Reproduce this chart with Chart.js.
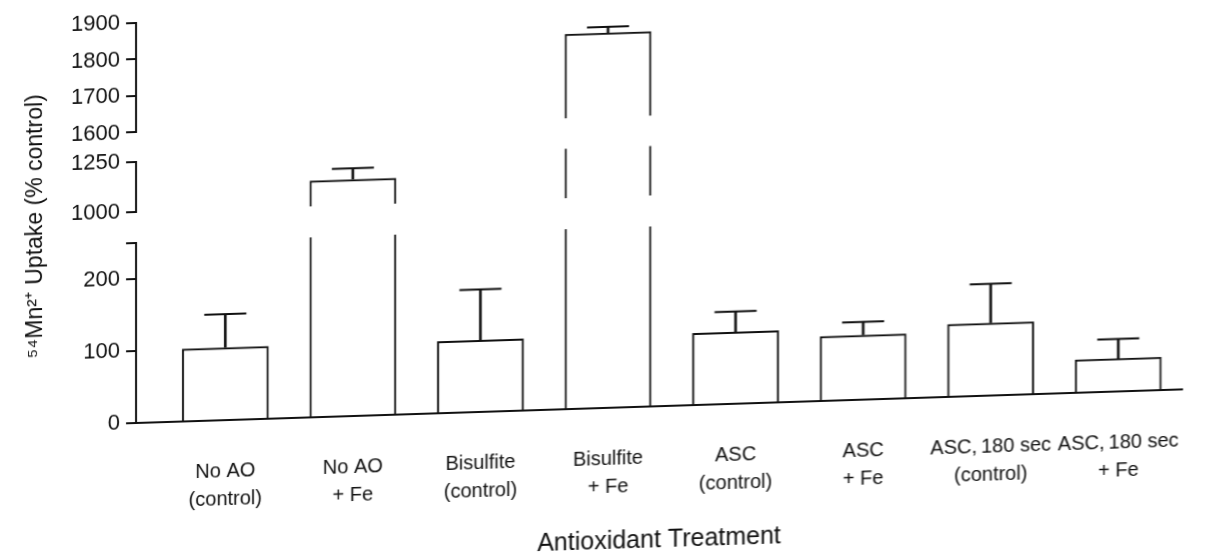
<!DOCTYPE html>
<html>
<head>
<meta charset="utf-8">
<title>54Mn uptake by antioxidant treatment</title>
<script src="https://cdn.jsdelivr.net/npm/chart.js@4/dist/chart.umd.min.js"></script>
<style>
  html, body { margin: 0; padding: 0; background: #fff; overflow: hidden; }
  /* the scanned figure sits slightly askew, so lean the whole drawing the same way */
  #wrap { position: relative; width: 1205px; height: 600px; transform-origin: 136px 423px; transform: skewY(-1.84deg); }
</style>
</head>
<body>
<div id="wrap"><canvas id="uptakeBar"></canvas></div>
<script>
// treatment groups (two-line labels)
const treatments = [
  ['No AO', '(control)'], ['No AO', '+ Fe'],
  ['Bisulfite', '(control)'], ['Bisulfite', '+ Fe'],
  ['ASC', '(control)'], ['ASC', '+ Fe'],
  ['ASC,\u2009180 sec', '(control)'], ['ASC,\u2009180 sec', '+ Fe']
];

// 54Mn2+ uptake, % control, and the error bar above each bar
const uptake = [101, 1130, 100, 1832, 100, 90, 101, 46];
const uptakeErr = [46, 55, 70, 16, 28, 18, 54, 27];

// broken y axis: tick values of each piece (bottom piece ends in an unlabelled cap at 250)
const lowTicks = [0, 100, 200, 250];
const lowLabels = ['0', '100', '200', ''];
const midTicks = [1000, 1250];
const topTicks = [1600, 1700, 1800, 1900];

const ink = '#111';
const family = "'Liberation Sans', Arial, sans-serif";

// pieces of the axis, bottom to top
const pieces = [
  { id: 'yLow', min: 0, max: 250, ticks: lowTicks, labels: lowLabels, weight: 181 },
  { id: 'yMid', min: 1000, max: 1250, ticks: midTicks, labels: midTicks.map(String), weight: 50 },
  { id: 'yTop', min: 1600, max: 1900, ticks: topTicks, labels: topTicks.map(String), weight: 110 }
];
const gapWeights = [31, 30]; // blank space above yLow and above yMid

const datasets = [];
pieces.forEach(p => {
  const bars = [], stems = [], caps = [];
  uptake.forEach((v, i) => {
    if (v > p.min) {
      bars.push({ x: i, y: [p.min, Math.min(v, p.max)], cut: v > p.max });
    }
    const e = v + uptakeErr[i];
    if (v >= p.min && e <= p.max) {
      stems.push({ x: i, y: [v, e] });
      caps.push({ x: i, y: e });
    }
  });
  datasets.push({
    type: 'bar', yAxisID: p.id, data: bars, grouped: false,
    backgroundColor: 'rgba(255,255,255,0)', borderColor: ink,
    borderWidth: c => ({ left: 2, right: 2, bottom: 0, top: (c.raw && c.raw.cut) ? 0 : 2 }),
    borderSkipped: 'start', barPercentage: 0.68, categoryPercentage: 1
  });
  datasets.push({
    type: 'bar', yAxisID: p.id, data: stems, grouped: false,
    backgroundColor: ink, borderWidth: 0, barThickness: 2
  });
  datasets.push({
    type: 'line', yAxisID: p.id, data: caps, showLine: false,
    pointStyle: 'line', pointRadius: 21, pointHoverRadius: 21,
    pointBorderWidth: 2, pointBorderColor: ink, borderColor: ink
  });
});

function pieceScale(p) {
  return {
    type: 'linear', position: 'left', stack: 'y', stackWeight: p.weight,
    min: p.min, max: p.max,
    afterBuildTicks: s => { s.ticks = p.ticks.map(v => ({ value: v })); },
    afterFit: s => { s.width = 76; },
    grid: { display: true, drawOnChartArea: false, drawTicks: true, tickLength: 10, color: ink, lineWidth: 2 },
    border: { display: true, color: ink, width: 2 },
    ticks: { autoSkip: false, padding: 6, color: ink, font: { family: family, size: 22 }, callback: (v, i) => p.labels[i] }
  };
}

function gapScale(w) {
  return {
    type: 'linear', position: 'left', stack: 'y', stackWeight: w, min: 0, max: 1,
    afterFit: s => { s.width = 76; },
    grid: { display: false }, border: { display: false }, ticks: { display: false }
  };
}

// left boxes are laid out last-defined first, so list them bottom to top
const scales = {
  x: {
    type: 'linear', min: -0.7, max: 7.5, offset: false,
    afterBuildTicks: s => { s.ticks = treatments.map((t, i) => ({ value: i })); },
    // fixed height, and no extra side room for the end labels
    afterFit: s => { s.height = 177; s.paddingLeft = 0; s.paddingRight = 0; },
    grid: { display: false },
    border: { display: true, color: ink, width: 2 },
    ticks: { autoSkip: false, maxRotation: 0, padding: 29, color: ink,
             font: { family: family, size: 20, lineHeight: 1.4 }, callback: v => treatments[v] },
    title: { display: true, text: 'Antioxidant Treatment', color: ink,
             font: { family: family, size: 25 }, padding: { top: 0, bottom: 28 } }
  },
  yLow: pieceScale(pieces[0]),
  gapLow: gapScale(gapWeights[0]),
  yMid: pieceScale(pieces[1]),
  gapMid: gapScale(gapWeights[1]),
  yTop: pieceScale(pieces[2]),
  yTitle: {
    type: 'linear', position: 'left', min: 0, max: 1,
    afterFit: s => { s.width = 60; },
    grid: { display: false }, border: { display: false }, ticks: { display: false },
    title: { display: true, text: '\u2075\u2074Mn\u00b2\u207a Uptake (% control)', color: ink,
             font: { family: family, size: 23 }, padding: { top: 22, bottom: 0 } }
  }
};

const ctx = document.getElementById('uptakeBar');
const uptakeChart = new Chart(ctx, {
  type: 'bar',
  data: { datasets: datasets },
  options: {
    responsive: true, maintainAspectRatio: false, animation: false,
    layout: { padding: { top: 21, right: 18, bottom: 0, left: 0 } },
    plugins: { legend: { display: false }, tooltip: { enabled: false } },
    scales: scales
  }
});
</script>
</body>
</html>
